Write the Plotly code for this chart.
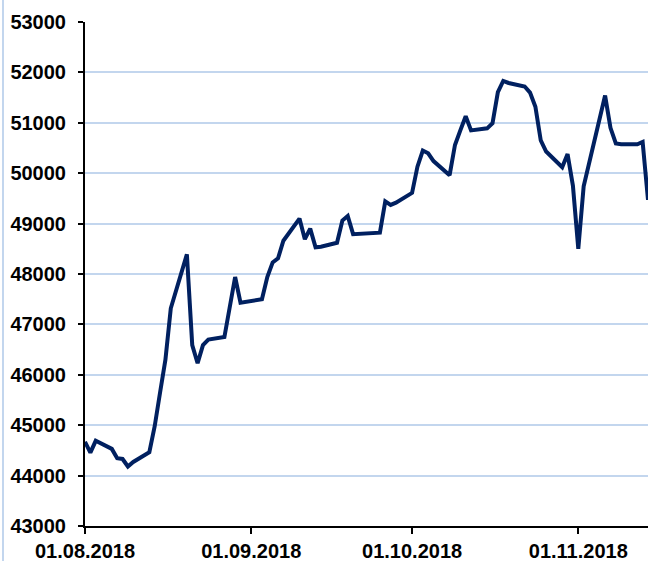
import plotly.graph_objects as go

dates = [
    "2018-08-01", "2018-08-02", "2018-08-03", "2018-08-06", "2018-08-07", "2018-08-08",
    "2018-08-09", "2018-08-10", "2018-08-13", "2018-08-14", "2018-08-15", "2018-08-16",
    "2018-08-17", "2018-08-20", "2018-08-21", "2018-08-22", "2018-08-23", "2018-08-24",
    "2018-08-27", "2018-08-28", "2018-08-29", "2018-08-30", "2018-08-31",
    "2018-09-03", "2018-09-04", "2018-09-05", "2018-09-06", "2018-09-07", "2018-09-10",
    "2018-09-11", "2018-09-12", "2018-09-13", "2018-09-14", "2018-09-17", "2018-09-18",
    "2018-09-19", "2018-09-20", "2018-09-21", "2018-09-24", "2018-09-25", "2018-09-26",
    "2018-09-27", "2018-09-28",
    "2018-10-01", "2018-10-02", "2018-10-03", "2018-10-04", "2018-10-05", "2018-10-08",
    "2018-10-09", "2018-10-10", "2018-10-11", "2018-10-12", "2018-10-15", "2018-10-16",
    "2018-10-17", "2018-10-18", "2018-10-19", "2018-10-22", "2018-10-23", "2018-10-24",
    "2018-10-25", "2018-10-26", "2018-10-29", "2018-10-30", "2018-10-31",
    "2018-11-01", "2018-11-02", "2018-11-06", "2018-11-07", "2018-11-08", "2018-11-09",
    "2018-11-12", "2018-11-13", "2018-11-14",
]

values = [
    44670, 44455, 44690, 44530, 44345, 44330,
    44180, 44270, 44465, 44980, 45650, 46300,
    47320, 48390, 46590, 46230, 46590, 46700,
    46750, 47320, 47940, 47430, 47450,
    47500, 47940, 48230, 48310, 48660, 49100,
    48690, 48900, 48530, 48540, 48620, 49060,
    49150, 48790, 48795, 48810, 48820, 49440,
    49370, 49415,
    49610, 50130, 50450, 50395, 50240, 49960,
    50560, 50850, 51130, 50850, 50890, 50990,
    51610, 51830, 51790, 51720, 51600, 51320,
    50650, 50430, 50120, 50380, 49750,
    48500, 49740, 51540, 50900, 50590, 50575,
    50575, 50620, 49470,
]

x_ticks = ["2018-08-01", "2018-09-01", "2018-10-01", "2018-11-01"]
x_tick_labels = ["01.08.2018", "01.09.2018", "01.10.2018", "01.11.2018"]
y_ticks = [43000, 44000, 45000, 46000, 47000, 48000, 49000, 50000, 51000, 52000, 53000]
y_tick_labels = [str(v) for v in y_ticks]

fig = go.Figure()
fig.add_trace(go.Scatter(
    x=dates, y=values, mode="lines",
    line=dict(color="#002060", width=4),
    showlegend=False, hoverinfo="skip",
))

tick_font = dict(family="Liberation Sans, Arial, sans-serif", size=20, color="black", weight="bold")

fig.update_layout(
    width=648, height=561,
    margin=dict(l=85, r=0, t=22, b=35),
    paper_bgcolor="white", plot_bgcolor="white",
    xaxis=dict(
        type="date",
        range=["2018-08-01", "2018-11-14"],
        tickvals=x_ticks, ticktext=x_tick_labels,
        showgrid=False, zeroline=False,
        showline=True, linecolor="black", linewidth=2,
        ticks="outside", ticklen=6, tickwidth=2, tickcolor="black",
        tickfont=tick_font,
    ),
    yaxis=dict(
        range=[43000, 53000],
        tickvals=y_ticks, ticktext=y_tick_labels,
        showgrid=True, gridcolor="#c3d6ee", gridwidth=2,
        zeroline=False,
        showline=True, linecolor="black", linewidth=2,
        ticks="outside", ticklen=5, tickwidth=2, tickcolor="black",
        tickfont=tick_font,
        ticklabelstandoff=8,
    ),
    shapes=[dict(
        type="line", xref="paper", yref="paper",
        x0=-82 / 563, x1=-82 / 563, y0=-35 / 504, y1=1 + 22 / 504,
        line=dict(color="#c3d6ee", width=2),
    )],
)

fig.write_html(
    "out.html",
    config={"displayModeBar": False},
    post_script="document.body.style.margin='0';document.body.style.overflow='hidden';",
)
